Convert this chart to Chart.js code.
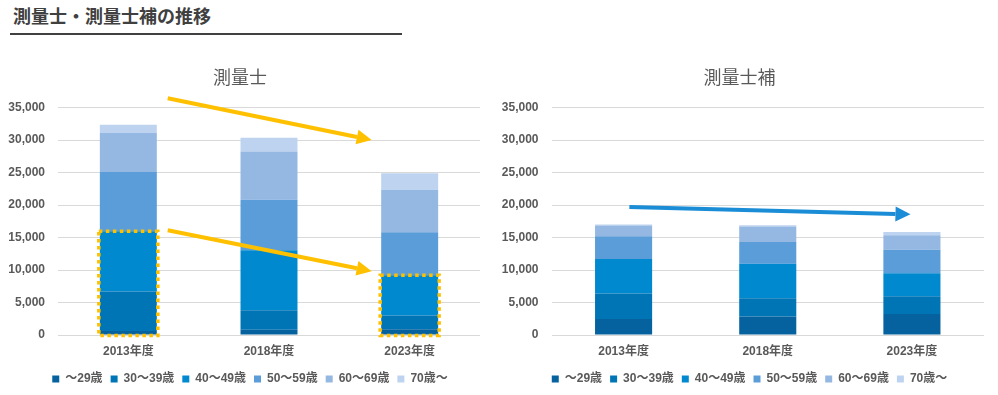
<!DOCTYPE html>
<html><head><meta charset="utf-8">
<script src="https://cdn.jsdelivr.net/npm/chart.js@4/dist/chart.umd.min.js"></script>
<style>
html,body{margin:0;padding:0;background:#fff;}
body{width:998px;height:395px;position:relative;overflow:hidden;}
#title{position:absolute;left:13px;top:5px;font:bold 18px "Noto Sans CJK JP",sans-serif;line-height:20px;color:#404040;}
#rule{position:absolute;left:10px;top:33px;width:392px;height:2px;background:#404040;}
#c1wrap{position:absolute;left:0;top:45px;width:495px;height:350px;}
#c2wrap{position:absolute;left:495px;top:45px;width:503px;height:350px;}
</style></head><body>
<div id="title">測量士・測量士補の推移</div>
<div id="rule"></div>
<div id="c1wrap"><canvas id="c1"></canvas></div>
<div id="c2wrap"><canvas id="c2"></canvas></div>
<script>
const categories = ["2013年度","2018年度","2023年度"];
const ageGroups = ["～29歳","30～39歳","40～49歳","50～59歳","60～69歳","70歳～"];
const chartTitles = ["測量士","測量士補"];
const yTicks = [0,5000,10000,15000,20000,25000,30000,35000];
// 測量士 (surveyors)
const surveyor_u29   = [600, 800, 900];
const surveyor_30s   = [6100, 3000, 2100];
const surveyor_40s   = [9250, 9250, 6200];
const surveyor_50s   = [9150, 7750, 6600];
const surveyor_60s   = [6000, 7450, 6550];
const surveyor_70p   = [1250, 2100, 2550];
// 測量士補 (assistant surveyors)
const assistant_u29  = [2450, 2830, 3240];
const assistant_30s  = [3950, 2820, 2720];
const assistant_40s  = [5300, 5320, 3560];
const assistant_50s  = [3500, 3330, 3610];
const assistant_60s  = [1650, 2400, 2210];
const assistant_70p  = [150, 180, 510];
// annotation arrows: [fromIndex, fromValue, toIndex, toValue]
const surveyorArrows = [[0.28, 36450, 1.73, 30010],[0.28, 16110, 1.73, 9820]];
const assistantArrows = [[0.04, 19710, 1.99, 18580]];
// highlighted (dotted) bars: category index, highest age-group index included
const surveyorBoxes = [[0, 2],[2, 2]];

const colors = ["#05629E","#0075B6","#0089CF","#5B9DD9","#95B8E3","#BED3F0"];
const FONT = '"Liberation Sans","Noto Sans CJK JP",sans-serif';
const GREY = "#595959";

function makeDatasets(arrs, barPct){
  return arrs.map((d,i)=>({label:ageGroups[i], data:d, backgroundColor:colors[i],
    borderWidth:0, barPercentage:barPct, categoryPercentage:1}));
}

function arrow(ctx, x1,y1,x2,y2,color){
  const ang = Math.atan2(y2-y1,x2-x1);
  const hl = 15, hw = 7.5;
  const bx = x2 - hl*Math.cos(ang), by = y2 - hl*Math.sin(ang);
  ctx.save();
  ctx.strokeStyle=color; ctx.fillStyle=color; ctx.lineWidth=4; ctx.lineCap='butt';
  ctx.beginPath(); ctx.moveTo(x1,y1); ctx.lineTo(bx,by); ctx.stroke();
  ctx.beginPath(); ctx.moveTo(x2,y2);
  ctx.lineTo(bx + hw*Math.sin(ang), by - hw*Math.cos(ang));
  ctx.lineTo(bx - hw*Math.sin(ang), by + hw*Math.cos(ang));
  ctx.closePath(); ctx.fill();
  ctx.restore();
}

const annotPlugin = {
  id:'annot',
  afterLayout(chart, args, opts){
    if (chart.legend && opts.legendShift){
      chart.legend.left += opts.legendShift; chart.legend.right += opts.legendShift;
    }
  },
  afterDatasetsDraw(chart, args, opts){
    const ctx = chart.ctx, xs = chart.scales.x, ys = chart.scales.y;
    (opts.boxes||[]).forEach(([ci, si])=>{
      const el = chart.getDatasetMeta(si).data[ci];
      const base = chart.getDatasetMeta(0).data[ci].base;
      const left = el.x - el.width/2 - 1, right = el.x + el.width/2 + 1;
      const top = el.y, bottom = base + 1;
      ctx.save();
      ctx.strokeStyle="#FFC000"; ctx.lineWidth=3.5; ctx.setLineDash([3.5,3.5]);
      ctx.strokeRect(left, top, right-left, bottom-top);
      ctx.restore();
    });
    (opts.arrows||[]).forEach(([i1,v1,i2,v2])=>{
      arrow(ctx, xs.getPixelForValue(i1), ys.getPixelForValue(v1),
                 xs.getPixelForValue(i2), ys.getPixelForValue(v2), opts.arrowColor);
    });
  }
};

function makeChart(id, title, datasets, padRight, yWidth, annot){
  return new Chart(document.getElementById(id), {
    type:'bar',
    data:{labels:categories, datasets:datasets},
    plugins:[annotPlugin],
    options:{
      responsive:true, maintainAspectRatio:false, animation:false,
      layout:{padding:{left:0,right:padRight,top:0,bottom:0}},
      plugins:{
        title:{display:true, text:title, color:GREY,
          font:{family:'"Noto Sans CJK JP",sans-serif', size:18, weight:'normal', lineHeight:1.2},
          padding:{top:21,bottom:20}},
        legend:{position:'bottom', labels:{boxWidth:7, boxHeight:7, color:GREY,
          font:{family:FONT, size:12, weight:'bold'}, padding:8}},
        tooltip:{enabled:false},
        annot:annot
      },
      scales:{
        x:{stacked:true, grid:{display:false, drawTicks:false}, border:{display:false},
           afterFit(s){ s.height = 30; },
           ticks:{color:GREY, font:{family:FONT,size:12,weight:'bold'}, padding:9}},
        y:{stacked:true, min:0, max:35000, border:{display:false},
           grid:{color:"#D9D9D9", lineWidth:1, drawTicks:false},
           afterBuildTicks(s){ s.ticks = yTicks.map(v=>({value:v})); },
           afterFit(s){ s.width = yWidth; },
           ticks:{color:GREY, font:{family:FONT,size:12,weight:'bold'}, padding:13,
             callback:(v)=>v.toLocaleString('en-US')}}
      }
    }
  });
}

makeChart('c1', chartTitles[0],
  makeDatasets([surveyor_u29,surveyor_30s,surveyor_40s,surveyor_50s,surveyor_60s,surveyor_70p],0.405),
  15, 58, {arrows:surveyorArrows, boxes:surveyorBoxes, arrowColor:"#FFC000", legendShift:10});
makeChart('c2', chartTitles[1],
  makeDatasets([assistant_u29,assistant_30s,assistant_40s,assistant_50s,assistant_60s,assistant_70p],0.396),
  14, 56.5, {arrows:assistantArrows, boxes:[], arrowColor:"#1A8DD6", legendShift:10});
</script>
</body></html>
